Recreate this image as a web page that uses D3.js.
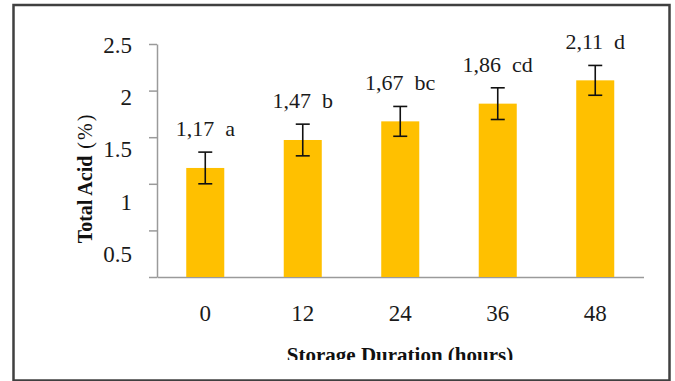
<!DOCTYPE html>
<html>
<head>
<meta charset="utf-8">
<script src="https://cdn.jsdelivr.net/npm/d3@7"></script>
<style>
  html, body { margin: 0; padding: 0; background: #fff; }
  svg { display: block; font-family: "Liberation Serif", "Times New Roman", serif; }
  .vlabel { white-space: pre; }
</style>
</head>
<body>
<svg id="chart" width="675" height="381"></svg>
<script>
// Total acid by storage duration
const categories = ["0", "12", "24", "36", "48"];
const totalAcid = [1.17, 1.47, 1.67, 1.86, 2.11];
const stdError = [0.17, 0.17, 0.16, 0.17, 0.16];
const groupLetters = ["a", "b", "bc", "cd", "d"];
const yTicks = [0, 0.5, 1, 1.5, 2, 2.5];

const svg = d3.select("#chart");
const W = 675, H = 381;

svg.append("rect").attr("width", W).attr("height", H).attr("fill", "#fff");

// outer frame
svg.append("rect")
  .attr("x", 13.5).attr("y", 5)
  .attr("width", 656).attr("height", 375.5)
  .attr("fill", "none")
  .attr("stroke", "#404040")
  .attr("stroke-width", 2.5);

const plot = { left: 157, right: 643.5, top: 44, bottom: 277 };

const y = d3.scaleLinear().domain([0, 2.5]).range([plot.bottom, plot.top]);
// tick labels sit on their own spacing, slightly below the tick marks
const labelY = d3.scaleLinear().domain([0.5, 2.5]).range([254, 45]);

const x = d3.scaleBand()
  .domain(categories)
  .range([plot.left, plot.right])
  .paddingInner(0.61)
  .paddingOuter(0.3);

const axisColor = "#9a9a9a";

// y axis
const yAxis = svg.append("g")
  .attr("transform", `translate(${plot.left},0)`)
  .call(d3.axisLeft(y)
    .tickValues(yTicks)
    .tickSize(8)
    .tickSizeOuter(0)
    .tickPadding(17)
    .tickFormat(d => d === 0 ? "" : d3.format("~g")(d)));
yAxis.select(".domain").attr("stroke", axisColor).attr("stroke-width", 1.5);
yAxis.selectAll(".tick line").attr("stroke", axisColor).attr("stroke-width", 1.5);
yAxis.selectAll(".tick text")
  .attr("y", d => d === 0 ? 0 : labelY(d) - y(d))
  .attr("font-size", 23)
  .attr("font-family", "Liberation Serif, Times New Roman, serif")
  .attr("fill", "#1a1a1a");

// x axis
const xAxis = svg.append("g")
  .attr("transform", `translate(0,${plot.bottom})`)
  .call(d3.axisBottom(x).tickSize(0).tickSizeOuter(0).tickPadding(28));
xAxis.select(".domain").attr("stroke", axisColor).attr("stroke-width", 1.5);
xAxis.selectAll(".tick text")
  .attr("font-size", 23)
  .attr("font-family", "Liberation Serif, Times New Roman, serif")
  .attr("fill", "#1a1a1a");

// bars
svg.append("g").selectAll("rect")
  .data(totalAcid)
  .join("rect")
  .attr("x", (d, i) => x(categories[i]))
  .attr("y", d => y(d))
  .attr("width", x.bandwidth())
  .attr("height", d => y(0) - y(d))
  .attr("fill", "#FFC000");

// error bars
const capHalf = 7;
const err = svg.append("g").attr("stroke", "#111").attr("stroke-width", 1.6);
totalAcid.forEach((v, i) => {
  const cx = x(categories[i]) + x.bandwidth() / 2;
  const hi = y(v + stdError[i]), lo = y(v - stdError[i]);
  err.append("line").attr("x1", cx).attr("x2", cx).attr("y1", hi).attr("y2", lo);
  err.append("line").attr("x1", cx - capHalf).attr("x2", cx + capHalf).attr("y1", hi).attr("y2", hi);
  err.append("line").attr("x1", cx - capHalf).attr("x2", cx + capHalf).attr("y1", lo).attr("y2", lo);
});

// value labels with significance letters
svg.append("g").selectAll("text")
  .data(totalAcid)
  .join("text")
  .attr("class", "vlabel")
  .attr("x", (d, i) => x(categories[i]) + x.bandwidth() / 2)
  .attr("y", (d, i) => y(d + stdError[i]) - 16)
  .attr("text-anchor", "middle")
  .attr("font-size", 22)
  .attr("fill", "#1a1a1a")
  .text((d, i) => `${d3.format(".2f")(d).replace(".", ",")}  ${groupLetters[i]}`);

// y axis title
const yTitle = svg.append("text")
  .attr("transform", "translate(92,178) rotate(-90)")
  .attr("text-anchor", "middle")
  .attr("font-size", 20)
  .attr("fill", "#111");
yTitle.append("tspan").attr("font-weight", "bold").text("Total Acid");
yTitle.append("tspan").attr("font-weight", "normal").attr("letter-spacing", 2).text(" (%)");

// x axis title, cut off along its lower edge
svg.append("clipPath").attr("id", "xtitle-clip")
  .append("rect").attr("x", 0).attr("y", 0).attr("width", W).attr("height", 360);
svg.append("text")
  .attr("clip-path", "url(#xtitle-clip)")
  .attr("x", 400)
  .attr("y", 362)
  .attr("text-anchor", "middle")
  .attr("font-size", 21)
  .attr("font-weight", "bold")
  .attr("fill", "#111")
  .text("Storage Duration (hours)");
</script>
</body>
</html>
